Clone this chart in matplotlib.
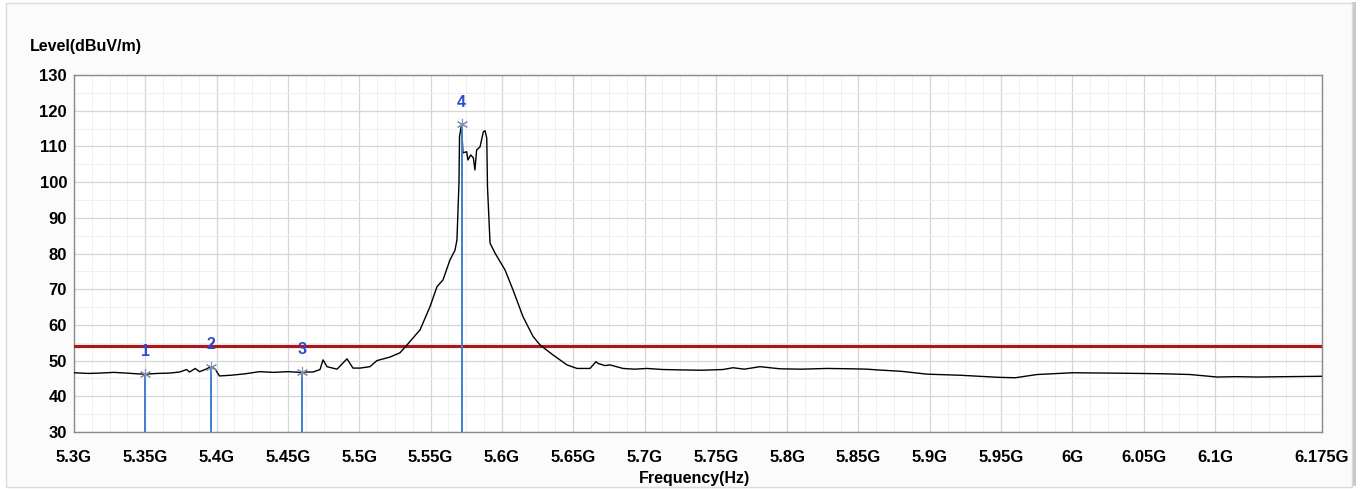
import matplotlib
matplotlib.use("Agg")
import matplotlib.pyplot as plt
from matplotlib.patches import Rectangle
from matplotlib.ticker import FixedLocator, MultipleLocator

# spectrum trace (GHz, dBuV/m)
freq_ghz = [5.300, 5.310, 5.318, 5.328, 5.337, 5.344, 5.350, 5.358, 5.367, 5.374,
            5.379, 5.381, 5.385, 5.388, 5.392, 5.396, 5.399, 5.402, 5.410, 5.420,
            5.430, 5.440, 5.450, 5.4585, 5.460, 5.4676, 5.4725, 5.4746, 5.4774, 5.4844,
            5.4914, 5.4956, 5.5005, 5.5075, 5.5124, 5.5216, 5.5286, 5.5335, 5.5426, 5.5496,
            5.5545, 5.5587, 5.5636, 5.5671, 5.5685, 5.5699, 5.5703, 5.5717, 5.5727, 5.5753,
            5.5762, 5.5781, 5.5800, 5.5811, 5.5823, 5.5847, 5.5870, 5.5882, 5.5894, 5.5899,
            5.5917, 5.5952, 5.6022, 5.6078, 5.6148, 5.6218, 5.6267, 5.6358, 5.6456, 5.6527,
            5.6618, 5.6660, 5.6674, 5.6723, 5.6758, 5.6849, 5.6930, 5.7017, 5.7130, 5.7249,
            5.7400, 5.7550, 5.7620, 5.7700, 5.7810, 5.7950, 5.8100, 5.8279, 5.8450, 5.8560,
            5.8630, 5.8800, 5.8981, 5.9212, 5.9350, 5.9492, 5.9600, 5.9752, 6.0004, 6.0250,
            6.0474, 6.0650, 6.0824, 6.1014, 6.1150, 6.1294, 6.1500, 6.1736, 6.175]
level = [46.6, 46.4, 46.5, 46.7, 46.5, 46.3, 46.2, 46.4, 46.5, 46.8,
         47.5, 46.8, 47.8, 46.9, 47.5, 48.3, 47.6, 45.7, 45.9, 46.3,
         46.9, 46.7, 46.9, 46.7, 46.8, 46.8, 47.5, 50.2, 48.3, 47.6,
         50.5, 47.9, 47.9, 48.3, 50.0, 51.0, 52.2, 54.4, 58.6, 65.1,
         70.7, 72.6, 78.2, 80.9, 83.8, 99.7, 112.7, 116.2, 108.2, 108.5,
         106.2, 107.6, 106.8, 103.4, 109.0, 109.9, 114.1, 114.4, 112.3, 98.7,
         82.9, 80.1, 75.4, 69.8, 62.3, 56.8, 54.4, 51.6, 48.8, 47.8,
         47.8, 49.7, 49.2, 48.6, 48.8, 47.8, 47.6, 47.8, 47.5, 47.4,
         47.3, 47.5, 48.0, 47.6, 48.3, 47.7, 47.6, 47.8, 47.7, 47.6,
         47.4, 47.0, 46.2, 45.9, 45.6, 45.3, 45.2, 46.1, 46.6, 46.5,
         46.4, 46.3, 46.1, 45.4, 45.5, 45.4, 45.5, 45.6, 45.6]

marker_ids = ["1", "2", "3", "4"]
marker_freq = [5.350, 5.396, 5.460, 5.5717]
marker_level = [46.2, 48.3, 46.8, 116.2]

limit_level = 54.0

xticks = [5.3, 5.35, 5.4, 5.45, 5.5, 5.55, 5.6, 5.65, 5.7, 5.75, 5.8, 5.85,
          5.9, 5.95, 6.0, 6.05, 6.1, 6.175]
xlabels = ["5.3G", "5.35G", "5.4G", "5.45G", "5.5G", "5.55G", "5.6G", "5.65G", "5.7G",
           "5.75G", "5.8G", "5.85G", "5.9G", "5.95G", "6G", "6.05G", "6.1G", "6.175G"]
yticks = [30, 40, 50, 60, 70, 80, 90, 100, 110, 120, 130]

plt.rcParams["font.family"] = ["Liberation Sans", "DejaVu Sans"]

W, H = 1361, 490
fig = plt.figure(figsize=(W / 100, H / 100), dpi=100)
fig.patch.set_facecolor("white")

# outer panel frame with a soft shadow on the right
fig.add_artist(Rectangle((1352 / W, 4 / H), 4 / W, 484 / H, transform=fig.transFigure,
                         facecolor="#c9c9c9", edgecolor="none", zorder=0))
fig.add_artist(Rectangle((6 / W, 3 / H), 1346 / W, 484 / H, transform=fig.transFigure,
                         facecolor="#fbfbfb", edgecolor="#dadada", lw=1, zorder=0))

ax = fig.add_axes([74 / W, 1 - 432 / H, (1322 - 74) / W, (432 - 75) / H])
ax.set_facecolor("white")
ax.set_xlim(5.3, 6.175)
ax.set_ylim(30, 130)

ax.xaxis.set_major_locator(FixedLocator(xticks))
ax.set_xticklabels(xlabels)
ax.xaxis.set_minor_locator(MultipleLocator(0.0125))
ax.set_yticks(yticks)
ax.yaxis.set_minor_locator(MultipleLocator(5))
ax.grid(which="major", color="#d6d6d6", lw=0.9)
ax.grid(which="minor", color="#f0f0f0", lw=0.7)
ax.set_axisbelow(True)
ax.tick_params(which="both", length=0)
ax.tick_params(axis="x", pad=13, labelsize=12)
ax.tick_params(axis="y", pad=5, labelsize=12)
for lab in ax.get_xticklabels() + ax.get_yticklabels():
    lab.set_fontweight("bold")
for s in ax.spines.values():
    s.set_color("#8a8a8a")
    s.set_linewidth(1)

ax.axhline(limit_level, color="#a8191c", lw=2.3, zorder=3)
ax.plot(freq_ghz, level, color="black", lw=1.0, zorder=4)

for mid, mf, ml in zip(marker_ids, marker_freq, marker_level):
    ax.plot([mf, mf], [30, ml], color="#3f7fcf", lw=1.4, zorder=5)
    ax.plot(mf, ml, marker=(6, 2, 0), ms=8, color="#7f8fb0", mew=0.8, zorder=6)
    ax.annotate(mid, (mf, ml), xytext=(0, 16), textcoords="offset points",
                ha="center", va="center", color="#2c4bd0", fontsize=11.5,
                fontweight="bold", zorder=7)

fig.text(30 / W, 1 - 47 / H, "Level(dBuV/m)", fontsize=11.5, fontweight="bold",
         ha="left", va="center")
fig.text(695 / W, 1 - 478 / H, "Frequency(Hz)", fontsize=11.5, fontweight="bold",
         ha="center", va="center")

fig.savefig("out.png", dpi=100)
